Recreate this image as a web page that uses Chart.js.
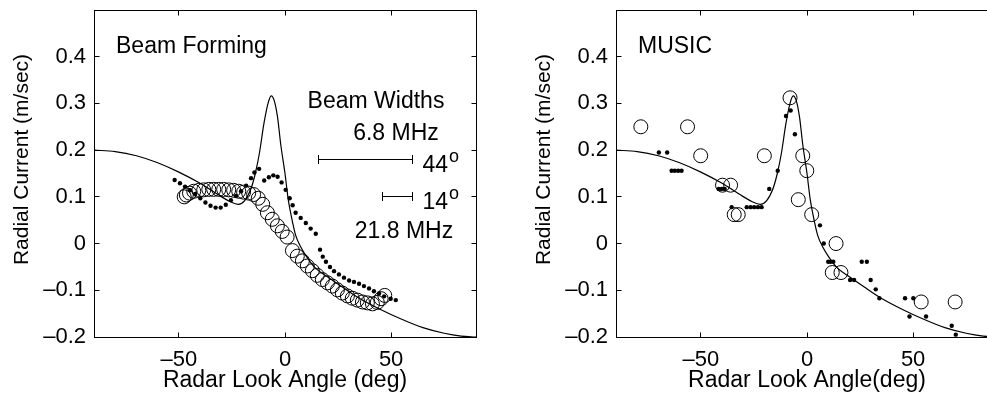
<!DOCTYPE html>
<html>
<head>
<meta charset="utf-8">
<script src="https://cdn.jsdelivr.net/npm/chart.js@4.4.1/dist/chart.umd.min.js"></script>
<style>
    html, body { margin: 0; padding: 0; background: #fff; overflow: hidden; }
    #wrap { position: relative; width: 987px; height: 405px; overflow: hidden; }
    canvas { position: absolute; top: 0; }
    #beam_chart { left: 0; }
    #music_chart { left: 522px; }
</style>
</head>
<body>
<div id="wrap">
<canvas id="beam_chart" width="500" height="405"></canvas>
<canvas id="music_chart" width="500" height="405"></canvas>
</div>
<script>
const FONT = "'Liberation Sans', Arial, Helvetica, sans-serif";

// axis ticks
const xTicks = [-50, 0, 50];
const yTicks = [-0.2, -0.1, 0, 0.1, 0.2, 0.3, 0.4];

// model current profile, drawn in both panels
const modelAngle = [-90, -80, -70, -60, -50, -40, -32, -26, -22, -19, -16, -14, -12, -10, -8, -6.5, -5, -3.5, -2, 0, 1.5, 3, 5, 7.5, 10, 14, 20, 27, 35, 45, 55, 65, 75, 83, 90];
const modelSpeed = [0.200, 0.197, 0.188, 0.173, 0.153, 0.129, 0.106, 0.090, 0.084, 0.092, 0.118, 0.150, 0.195, 0.255, 0.300, 0.316, 0.305, 0.270, 0.212, 0.150, 0.095, 0.058, 0.018, -0.008, -0.027, -0.051, -0.071, -0.093, -0.117, -0.141, -0.162, -0.180, -0.192, -0.198, -0.200];

// beam forming estimates
const bfDotAngle = [-52.0, -49.5, -47.1, -44.7, -42.3, -39.9, -37.5, -35.1, -32.7, -30.3, -27.9, -25.5, -23.1, -20.7, -18.3, -16.0, -14.4, -12.2, -9.8, -7.6, -5.5, -3.5, -1.6, 0.3, 2.2, 3.6, 5.0, 7.4, 9.8, 12.1, 14.5, 16.5, 17.8, 19.3, 21.2, 23.1, 25.4, 27.8, 30.2, 32.5, 34.9, 37.2, 39.6, 41.9, 44.3, 46.7, 49.8, 52.2];
const bfDotSpeed = [0.136, 0.129, 0.122, 0.114, 0.106, 0.097, 0.088, 0.081, 0.077, 0.077, 0.083, 0.093, 0.102, 0.112, 0.124, 0.140, 0.152, 0.160, 0.135, 0.142, 0.146, 0.143, 0.131, 0.115, 0.097, 0.082, 0.066, 0.055, 0.044, 0.032, 0.021, -0.013, -0.028, -0.039, -0.050, -0.059, -0.066, -0.073, -0.079, -0.082, -0.086, -0.091, -0.096, -0.102, -0.107, -0.113, -0.118, -0.121];
const bfRingAngle = [-47.5, -46.5, -45.0, -43.0, -40.6, -38.3, -35.9, -33.6, -31.2, -28.9, -26.5, -24.2, -21.8, -19.5, -17.1, -14.8, -12.6, -10.5, -8.3, -6.0, -3.6, -1.3, 1.0, 3.5, 5.8, 8.2, 10.5, 12.9, 15.2, 17.6, 20.0, 22.3, 24.7, 27.0, 29.4, 31.7, 34.1, 36.5, 38.8, 41.2, 43.5, 45.3, 47.0];
const bfRingSpeed = [0.100, 0.104, 0.108, 0.112, 0.114, 0.115, 0.116, 0.116, 0.116, 0.116, 0.115, 0.114, 0.112, 0.110, 0.108, 0.105, 0.097, 0.084, 0.066, 0.052, 0.038, 0.026, 0.014, -0.015, -0.027, -0.037, -0.048, -0.058, -0.068, -0.077, -0.084, -0.091, -0.099, -0.106, -0.112, -0.117, -0.121, -0.125, -0.127, -0.129, -0.126, -0.118, -0.111];

// MUSIC estimates
const musicDotAngle = [-69.8, -65.9, -63.8, -62.3, -60.7, -59.1, -41.6, -40.2, -38.8, -35.5, -28.4, -26.6, -24.9, -23.1, -21.4, -17.8, -13.8, -9.9, -7.7, -5.7, 6.1, 7.9, 10.0, 11.2, 12.4, 20.3, 22.2, 25.8, 28.2, 30.0, 32.4, 34.1, 46.2, 48.3, 50.1, 56.1, 68.2, 70.1];
const musicDotSpeed = [0.195, 0.195, 0.156, 0.156, 0.156, 0.156, 0.117, 0.117, 0.117, 0.078, 0.078, 0.078, 0.078, 0.078, 0.078, 0.117, 0.156, 0.273, 0.285, 0.234, 0.039, 0.0, -0.039, -0.039, -0.039, -0.078, -0.078, -0.039, -0.039, -0.078, -0.098, -0.117, -0.117, -0.156, -0.117, -0.156, -0.176, -0.195];
const musicRingAngle = [-78.3, -56.3, -50.1, -39.8, -36.0, -34.3, -32.4, -20.1, -8.0, -4.1, -2.0, -0.1, 2.2, 11.9, 13.7, 16.0, 53.8, 69.8];
const musicRingSpeed = [0.250, 0.250, 0.188, 0.125, 0.125, 0.062, 0.062, 0.188, 0.312, 0.094, 0.188, 0.156, 0.062, -0.062, 0.0, -0.062, -0.125, -0.125];

// beam widths (deg) at 6.8 and 21.8 MHz
const beamWidths = [44, 14];

const toPoints = function(xs, ys) {
    return xs.map((x, i) => ({ x: x, y: ys[i] }));
}

// matlab style minus sign
const tickLabel = function(v) {
    return v < 0 ? '\u2013' + String(-v) : String(v);
}

// frame with inward ticks on all four sides
const boxPlugin = {
    id: 'boxTicks',
    afterDatasetsDraw(chart) {
        const { ctx, chartArea: a, scales: { x, y } } = chart;
        const l = Math.floor(a.left) + 0.5, r = Math.floor(a.right) + 0.5;
        const t = Math.floor(a.top) + 0.5, b = Math.floor(a.bottom) + 0.5;
        ctx.save();
        ctx.strokeStyle = '#000';
        ctx.lineWidth = 1;
        ctx.strokeRect(l, t, r - l, b - t);
        ctx.beginPath();
        xTicks.forEach(v => {
            const px = Math.floor(x.getPixelForValue(v)) + 0.5;
            ctx.moveTo(px, b); ctx.lineTo(px, b - 5);
            ctx.moveTo(px, t); ctx.lineTo(px, t + 5);
        });
        yTicks.forEach(v => {
            const py = Math.floor(y.getPixelForValue(v)) + 0.5;
            ctx.moveTo(l, py); ctx.lineTo(l + 5, py);
            ctx.moveTo(r, py); ctx.lineTo(r - 5, py);
        });
        ctx.stroke();
        ctx.restore();
    }
}

// y title, panel name and (beam forming only) the beam width bars
const panelText = function(name, withBeams) {
    return {
        id: 'panelText',
        afterDraw(chart) {
            const { ctx, chartArea: a, scales: { x, y } } = chart;
            ctx.save();
            ctx.fillStyle = '#000';
            ctx.strokeStyle = '#000';

            ctx.save();
            ctx.translate(a.left - 72, (a.top + a.bottom) / 2 - 14);
            ctx.rotate(-Math.PI / 2);
            ctx.font = '21px ' + FONT;
            ctx.textAlign = 'center';
            ctx.textBaseline = 'middle';
            ctx.fillText('Radial Current (m/sec)', 0, 0);
            ctx.restore();

            ctx.font = '23px ' + FONT;
            ctx.textAlign = 'left';
            ctx.textBaseline = 'alphabetic';
            ctx.fillText(name, a.left + 22, a.top + 42.5);

            if (withBeams) {
                ctx.textAlign = 'center';
                ctx.fillText('Beam Widths', a.left + 282, a.top + 98);
                ctx.fillText('6.8 MHz', a.left + 302, a.top + 130);
                ctx.fillText('21.8 MHz', a.left + 310, a.top + 228);

                const levels = [0.18, 0.1];
                const end = Math.floor(x.getPixelForValue(60)) + 0.5;
                ctx.lineWidth = 1;
                beamWidths.forEach((w, i) => {
                    const yy = Math.floor(y.getPixelForValue(levels[i])) + 0.5;
                    const x0 = Math.floor(x.getPixelForValue(60 - w)) + 0.5;
                    ctx.beginPath();
                    ctx.moveTo(x0, yy); ctx.lineTo(end, yy);
                    ctx.moveTo(x0, yy - 4.5); ctx.lineTo(x0, yy + 4.5);
                    ctx.moveTo(end, yy - 4.5); ctx.lineTo(end, yy + 4.5);
                    ctx.stroke();

                    ctx.textAlign = 'left';
                    ctx.font = '23px ' + FONT;
                    ctx.fillText(String(w), end + 10, yy + 12);
                    const tw = ctx.measureText(String(w)).width;
                    ctx.font = '18px ' + FONT;
                    ctx.fillText('o', end + 11 + tw, yy + 2);
                });
            }
            ctx.restore();
        }
    }
}

const createPanel = function(id, name, xTitle, dotAngle, dotSpeed, ringAngle, ringSpeed, withBeams) {
    const ctx = document.getElementById(id).getContext('2d');
    return new Chart(ctx, {
        type: 'scatter',
        data: {
            datasets: [
                {
                    data: toPoints(modelAngle, modelSpeed),
                    showLine: true,
                    borderColor: '#000',
                    borderWidth: 1.2,
                    pointRadius: 0,
                    cubicInterpolationMode: 'monotone'
                },
                {
                    data: toPoints(dotAngle, dotSpeed),
                    pointRadius: 2.2,
                    backgroundColor: '#000',
                    borderWidth: 0
                },
                {
                    data: toPoints(ringAngle, ringSpeed),
                    pointRadius: 7,
                    backgroundColor: 'rgba(0,0,0,0)',
                    borderColor: '#000',
                    borderWidth: 1
                }
            ]
        },
        options: {
            responsive: false,
            animation: false,
            events: [],
            devicePixelRatio: 1,
            layout: { padding: { top: 10, right: 24, bottom: 0, left: 0 } },
            plugins: { legend: { display: false }, tooltip: { enabled: false } },
            scales: {
                x: {
                    type: 'linear',
                    min: -90,
                    max: 90,
                    grid: { display: false, drawTicks: false },
                    border: { display: false },
                    afterBuildTicks: axis => { axis.ticks = xTicks.map(v => ({ value: v })); },
                    afterFit: axis => { axis.height = 68; axis.paddingLeft = 0; axis.paddingRight = 0; },
                    ticks: {
                        color: '#000',
                        font: { family: FONT, size: 22 },
                        padding: 10,
                        maxRotation: 0,
                        callback: tickLabel
                    },
                    title: {
                        display: true,
                        text: xTitle,
                        color: '#000',
                        font: { family: FONT, size: 23 },
                        padding: { top: 0, bottom: 11 }
                    }
                },
                y: {
                    type: 'linear',
                    min: -0.2,
                    max: 0.5,
                    grid: { display: false, drawTicks: false },
                    border: { display: false },
                    afterBuildTicks: axis => { axis.ticks = yTicks.map(v => ({ value: v })); },
                    afterFit: axis => { axis.width = 94; axis.paddingTop = 0; axis.paddingBottom = 0; },
                    ticks: {
                        color: '#000',
                        font: { family: FONT, size: 22 },
                        padding: 8,
                        callback: tickLabel
                    }
                }
            }
        },
        plugins: [boxPlugin, panelText(name, withBeams)]
    });
}

// first panel
createPanel('beam_chart', 'Beam Forming', 'Radar Look Angle (deg)', bfDotAngle, bfDotSpeed, bfRingAngle, bfRingSpeed, true);

// second panel
createPanel('music_chart', 'MUSIC', 'Radar Look Angle(deg)', musicDotAngle, musicDotSpeed, musicRingAngle, musicRingSpeed, false);
</script>
</body>
</html>
